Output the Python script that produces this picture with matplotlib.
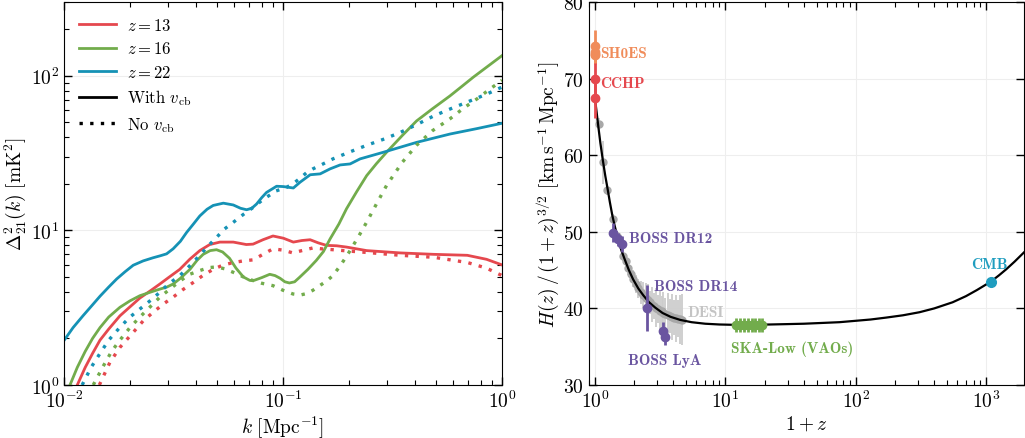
import matplotlib
matplotlib.use('Agg')
import matplotlib.pyplot as plt
from matplotlib.lines import Line2D

plt.rcParams['font.family'] = ['cmr10', 'DejaVu Serif']
plt.rcParams['mathtext.fontset'] = 'cm'
plt.rcParams['axes.formatter.use_mathtext'] = True
plt.rcParams['axes.unicode_minus'] = False

RED = '#e5484e'
GREEN = '#72ac4c'
BLUE = '#1592b5'
PURPLE = '#6a55a0'
ORANGE = '#f08c5a'
CMBC = '#1f9dbf'

# ---- left panel: 21cm power spectrum ----
k_blue = [0.01, 0.011, 0.0122, 0.0135, 0.0146, 0.016, 0.0174, 0.019, 0.0207, 0.023, 0.0255,
          0.0275, 0.0294, 0.0315, 0.034, 0.0363, 0.039, 0.0417, 0.045, 0.048, 0.0534, 0.0593,
          0.064, 0.0682, 0.072, 0.0757, 0.08, 0.0841, 0.0935, 0.1004, 0.1115, 0.1197, 0.1331,
          0.1478, 0.1641, 0.1823, 0.2025, 0.2249, 0.287, 0.4077, 0.5791, 0.7664, 1.0]
d_blue = [1.94, 2.35, 2.8, 3.3, 3.75, 4.3, 4.85, 5.4, 5.95, 6.35, 6.65,
          6.85, 7.05, 7.6, 8.5, 9.7, 11.0, 12.4, 13.7, 14.5, 15.0, 14.6,
          13.9, 13.6, 13.9, 14.8, 16.3, 17.6, 19.3, 19.2, 18.8, 20.5, 22.9,
          23.2, 25.0, 26.5, 26.9, 29.0, 32.0, 37.1, 42.0, 45.5, 49.3]
k_blue_nv = [0.0121, 0.0133, 0.0146, 0.016, 0.018, 0.02, 0.0222, 0.025, 0.0274, 0.030, 0.0338,
             0.0375, 0.0417, 0.045, 0.0497, 0.054, 0.0594, 0.066, 0.0732, 0.08, 0.0842, 0.093,
             0.104, 0.112, 0.119, 0.128, 0.137, 0.15, 0.169, 0.2, 0.241, 0.29, 0.343, 0.41,
             0.488, 0.58, 0.694, 0.85, 1.0]
d_blue_nv = [1.0, 1.3, 1.6, 1.95, 2.36, 2.75, 3.1, 3.55, 3.98, 4.5, 5.1,
             5.9, 6.9, 7.8, 9.0, 10.2, 11.3, 12.7, 14.1, 15.6, 16.4, 18.0,
             19.0, 20.2, 21.6, 23.6, 25.0, 26.6, 29.0, 32.0, 35.5, 39.0, 43.0, 48.5,
             55.0, 61.0, 67.6, 76.0, 84.5]

k_red = [0.0115, 0.0125, 0.0135, 0.0146, 0.016, 0.018, 0.020, 0.0222, 0.025, 0.0274, 0.030,
         0.0338, 0.0375, 0.0417, 0.0463, 0.0515, 0.0593, 0.068, 0.073, 0.081, 0.090, 0.1004,
         0.1115, 0.122, 0.133, 0.145, 0.158, 0.176, 0.195, 0.241, 0.343, 0.488, 0.694, 0.85, 1.0]
d_red = [1.0, 1.3, 1.6, 1.95, 2.3, 2.8, 3.2, 3.65, 4.1, 4.5, 4.95,
         5.6, 6.5, 7.4, 8.1, 8.4, 8.4, 8.1, 8.15, 8.7, 9.2, 8.9,
         8.4, 8.6, 8.7, 8.3, 8.0, 7.95, 7.8, 7.4, 7.15, 7.0, 6.9, 6.5, 5.98]
k_red_nv = [0.0145, 0.0162, 0.018, 0.0207, 0.023, 0.0255, 0.0285, 0.0315, 0.035, 0.0389, 0.043,
            0.048, 0.053, 0.0594, 0.066, 0.0732, 0.081, 0.090, 0.1, 0.111, 0.122, 0.137, 0.15,
            0.169, 0.2, 0.241, 0.343, 0.488, 0.694, 0.85, 1.0]
d_red_nv = [1.0, 1.4, 1.75, 2.19, 2.6, 2.95, 3.35, 3.7, 4.15, 4.6, 5.1,
            5.6, 5.95, 6.2, 6.35, 6.45, 7.0, 7.6, 7.45, 7.15, 7.4, 7.7, 7.6,
            7.5, 7.35, 7.2, 6.9, 6.7, 6.2, 5.7, 5.1]

k_green = [0.01065, 0.0115, 0.0125, 0.0135, 0.0146, 0.016, 0.018, 0.020, 0.0222, 0.025, 0.0274,
           0.0295, 0.0315, 0.034, 0.0376, 0.0405, 0.0432, 0.0465, 0.0497, 0.053, 0.057, 0.061,
           0.0659, 0.0705, 0.0732, 0.080, 0.087, 0.092, 0.097, 0.102, 0.107, 0.113, 0.119, 0.13,
           0.142, 0.153, 0.164, 0.18, 0.195, 0.217, 0.241, 0.267, 0.297, 0.35, 0.407, 0.48,
           0.578, 0.66, 0.74, 0.86, 1.0]
d_green = [1.0, 1.3, 1.65, 2.0, 2.35, 2.75, 3.18, 3.5, 3.78, 4.0, 4.17,
           4.3, 4.5, 4.9, 5.6, 6.4, 7.0, 7.4, 7.5, 7.25, 6.6, 5.7,
           5.0, 4.75, 4.73, 4.95, 5.2, 5.1, 4.9, 4.65, 4.57, 4.65, 4.97, 5.6,
           6.4, 7.3, 8.8, 11.0, 13.8, 17.8, 22.6, 27.0, 32.0, 41.0, 51.0, 61.0,
           74.0, 86.0, 98.0, 115.0, 135.0]
k_green_nv = [0.0136, 0.015, 0.0165, 0.018, 0.02, 0.0222, 0.025, 0.0274, 0.030, 0.0338, 0.0375,
              0.0417, 0.046, 0.0497, 0.054, 0.0594, 0.066, 0.0732, 0.080, 0.090, 0.100, 0.111,
              0.12, 0.128, 0.137, 0.147, 0.158, 0.169, 0.184, 0.2, 0.22, 0.241, 0.267, 0.297,
              0.35, 0.407, 0.48, 0.578, 0.67, 0.77, 0.88, 1.0]
d_green_nv = [1.0, 1.3, 1.65, 1.95, 2.35, 2.75, 3.25, 3.7, 4.1, 4.7, 5.2,
              5.5, 5.75, 5.8, 5.65, 5.35, 5.0, 4.73, 4.55, 4.39, 4.1, 3.88,
              3.82, 3.9, 4.1, 4.39, 4.7, 5.1, 6.0, 7.2, 9.0, 11.3, 14.8, 19.5,
              27.5, 35.5, 44.0, 52.6, 62.0, 71.0, 82.0, 93.5]

# ---- right panel: expansion history ----
curve_x = [1.0, 1.03, 1.06, 1.1, 1.15, 1.2, 1.25, 1.3, 1.36, 1.42, 1.5, 1.6, 1.7, 1.82, 1.96,
           2.15, 2.35, 2.6, 2.9, 3.3, 3.8, 4.5, 5.5, 7.0, 9.0, 12, 16, 22, 30, 40, 55, 75, 95,
           130, 171, 230, 308, 400, 553, 700, 850, 1087, 1250, 1423, 1650, 1946]
curve_y = [67.4, 65.6, 63.8, 61.6, 59.3, 57.3, 55.6, 53.9, 52.1, 50.7, 49.1, 47.5, 46.3, 45.0, 43.8,
           42.6, 41.7, 40.8, 40.1, 39.4, 38.9, 38.5, 38.2, 38.0, 37.9, 37.85, 37.85, 37.9, 37.95,
           38.0, 38.1, 38.2, 38.35, 38.55, 38.8, 39.1, 39.5, 40.0, 40.8, 41.6, 42.4, 43.5, 44.3,
           45.1, 46.1, 47.3]

gray_x = [1.07, 1.16, 1.23, 1.37, 1.47, 1.65, 1.72, 1.8, 1.88, 1.96, 2.05, 2.15, 2.25, 2.35,
          2.45, 2.55, 2.65, 2.75, 2.85, 2.95, 3.05, 3.15, 3.25, 3.35, 3.45, 3.6, 3.75, 3.9,
          4.05, 4.2, 4.35, 4.5, 4.65]
gray_y = [64.1, 59.1, 55.4, 51.7, 49.5, 46.9, 46.2, 45.3, 44.5, 43.9, 43.2, 42.6, 42.1, 41.8,
          41.4, 41.1, 40.8, 40.5, 40.3, 40.1, 39.9, 39.7, 39.6, 39.4, 39.3, 39.15, 39.0, 38.9,
          38.8, 38.7, 38.65, 38.6, 38.55]
gray_err = [0.8, 2.8, 0.6, 0.6, 0.6, 0.7, 0.8, 0.9, 1.0, 1.1, 1.2, 1.3, 1.5, 1.7, 1.9,
            2.1, 1.5, 2.3, 1.7, 2.5, 1.8, 2.6, 2.0, 2.8, 2.1, 2.9, 2.2, 3.0, 2.3, 3.1,
            2.4, 3.2, 3.3]

shoes_x = [1.0, 1.0, 1.0, 1.0]
shoes_y = [73.04, 73.2, 73.5, 74.3]
shoes_err = [1.04, 1.3, 1.4, 2.0]
cchp_x = [1.0, 1.0]
cchp_y = [70.0, 67.5]
cchp_err = [2.0, 2.6]
dr12_x = [1.38, 1.51, 1.61]
dr12_y = [49.9, 49.0, 48.4]
dr12_err = [1.2, 0.9, 1.0]
dr14_x = [2.52]
dr14_y = [40.05]
dr14_err = [2.95]
lya_x = [3.33, 3.43]
lya_y = [37.1, 36.3]
lya_err = [1.1, 1.1]
ska_x = [12, 13, 14, 15, 16, 17, 18, 19]
ska_y = [37.8, 37.8, 37.8, 37.8, 37.8, 37.8, 37.8, 37.8]
ska_err = [0.9, 0.9, 0.9, 0.9, 0.9, 0.9, 0.9, 0.9]
cmb_x = [1090]
cmb_y = [43.5]
cmb_err = [0.4]

fig = plt.figure(figsize=(10.25, 4.39), dpi=100)
ax1 = fig.add_axes([64 / 1025, 53 / 439, 438 / 1025, 383 / 439])
ax2 = fig.add_axes([589 / 1025, 53 / 439, 435 / 1025, 383 / 439])

lw = 2.0
dots = (0, (1, 2.2))
ax1.plot(k_red, d_red, color=RED, lw=lw)
ax1.plot(k_green, d_green, color=GREEN, lw=lw)
ax1.plot(k_blue, d_blue, color=BLUE, lw=lw)
ax1.plot(k_red_nv, d_red_nv, color=RED, lw=2.4, ls=dots)
ax1.plot(k_green_nv, d_green_nv, color=GREEN, lw=2.4, ls=dots)
ax1.plot(k_blue_nv, d_blue_nv, color=BLUE, lw=2.4, ls=dots)
ax1.set_xscale('log')
ax1.set_yscale('log')
ax1.set_xlim(1e-2, 1)
ax1.set_ylim(1, 300)
ax1.set_xlabel(r'$k\ [\mathrm{Mpc}^{-1}]$', fontsize=14, labelpad=2)
ax1.set_ylabel(r'$\Delta^2_{21}(k)\ [\mathrm{mK}^2]$', fontsize=14, labelpad=2)

handles = [Line2D([], [], color=RED, lw=lw), Line2D([], [], color=GREEN, lw=lw),
           Line2D([], [], color=BLUE, lw=lw), Line2D([], [], color='k', lw=lw),
           Line2D([], [], color='k', lw=2.4, ls=dots)]
labels = [r'$z = 13$', r'$z = 16$', r'$z = 22$', r'With $v_{\rm cb}$', r'No $v_{\rm cb}$']
ax1.legend(handles, labels, loc='upper left', frameon=False, fontsize=12,
           handlelength=2.2, labelspacing=0.45, borderaxespad=0.5, handletextpad=0.7)

# right panel
ax2.plot(curve_x, curve_y, color='k', lw=1.6, zorder=3)
ax2.errorbar(gray_x, gray_y, yerr=gray_err, fmt='o', color='#a8a8a8', ecolor='#cccccc',
             ms=5, elinewidth=1.3, zorder=2)
ax2.errorbar(shoes_x, shoes_y, yerr=shoes_err, fmt='o', color=ORANGE, ms=6, elinewidth=2, zorder=4)
ax2.errorbar(cchp_x, cchp_y, yerr=cchp_err, fmt='o', color=RED, ms=6, elinewidth=2, zorder=4)
ax2.errorbar(dr12_x, dr12_y, yerr=dr12_err, fmt='o', color=PURPLE, ms=6, elinewidth=2, zorder=4)
ax2.errorbar(dr14_x, dr14_y, yerr=dr14_err, fmt='o', color=PURPLE, ms=6, elinewidth=2, zorder=4)
ax2.errorbar(lya_x, lya_y, yerr=lya_err, fmt='o', color=PURPLE, ms=6, elinewidth=2, zorder=4)
ax2.errorbar(ska_x, ska_y, yerr=ska_err, fmt='o', color=GREEN, ms=6, elinewidth=2, zorder=4)
ax2.errorbar(cmb_x, cmb_y, yerr=cmb_err, fmt='o', color=CMBC, ms=7, elinewidth=2, zorder=4)

bold = dict(family='cmb10', fontsize=11)
ax2.text(1.105, 73.4, 'SH0ES', color=ORANGE, va='center', **bold)
ax2.text(1.105, 69.4, 'CCHP', color=RED, va='center', **bold)
ax2.text(1.82, 49.2, 'BOSS DR12', color=PURPLE, va='center', **bold)
ax2.text(2.83, 42.9, 'BOSS DR14', color=PURPLE, va='center', **bold)
ax2.text(1.78, 33.3, 'BOSS LyA', color=PURPLE, va='center', **bold)
ax2.text(5.09, 39.5, 'DESI', color='#c4c4c4', va='center', **bold)
ax2.text(10.97, 34.8, 'SKA-Low (VAOs)', color=GREEN, va='center', **bold)
ax2.text(1060, 45.8, 'CMB', color=CMBC, va='center', ha='center', **bold)

ax2.set_xscale('log')
ax2.set_xlim(0.9, 1950)
ax2.set_ylim(30, 80)
ax2.set_yticks([30, 40, 50, 60, 70, 80])
ax2.set_xlabel(r'$1 + z$', fontsize=14, labelpad=2)
ax2.set_ylabel(r'$H(z)\,/\,(1+z)^{3/2}\ [\mathrm{km\,s}^{-1}\,\mathrm{Mpc}^{-1}]$', fontsize=14, labelpad=2)

for ax in (ax1, ax2):
    ax.grid(True, which='major', color='#eeeeee', lw=0.8)
    ax.set_axisbelow(True)
    ax.tick_params(which='both', direction='in', top=True, right=True, labelsize=14)
    ax.tick_params(which='major', length=6, width=1)
    ax.tick_params(which='minor', length=3.5, width=0.8)
ax2.tick_params(axis='y', which='minor', left=False, right=False)

fig.savefig('out.png', dpi=100)
